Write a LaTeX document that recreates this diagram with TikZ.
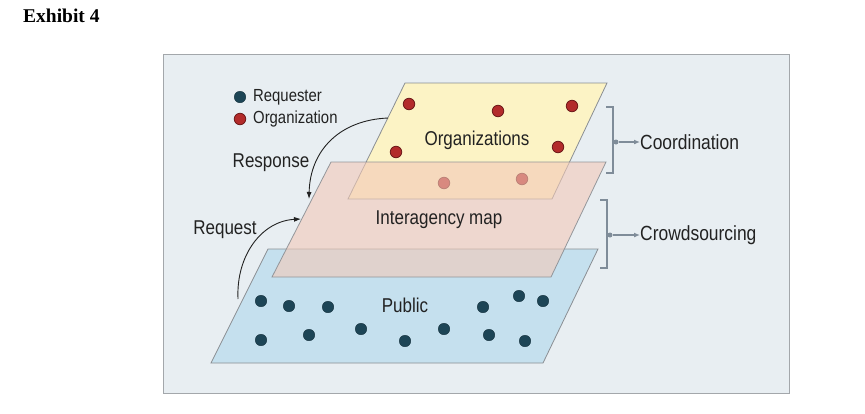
\documentclass[tikz,border=0pt]{standalone}
\usepackage{fontspec}
\setmainfont{Liberation Sans}[FakeStretch=0.85]
\newfontfamily\exfont{Liberation Serif}
\usetikzlibrary{arrows.meta}
\definecolor{framebg}{HTML}{E8EEF2}
\definecolor{frameline}{HTML}{A3A7AB}
\definecolor{yellowp}{HTML}{FCF3C5}
\definecolor{pinkp}{HTML}{F2C9B8}
\definecolor{bluep}{HTML}{C5E0EE}
\definecolor{planeline}{HTML}{8A8E93}
\definecolor{reqdot}{HTML}{1D4556}
\definecolor{orgdot}{HTML}{B32B2B}
\definecolor{orgline}{HTML}{6E1A1A}
\definecolor{brk}{HTML}{7F8C99}
\definecolor{txt}{HTML}{222222}
\tikzset{
  plane/.style={draw=planeline, line width=0.8pt},
  rdot/.style={circle, fill=reqdot, draw=reqdot!70!black, line width=0.4pt, minimum size=11.5pt, inner sep=0pt},
  odot/.style={circle, fill=orgdot, draw=orgline, line width=0.8pt, minimum size=11.5pt, inner sep=0pt},
  lbl/.style={text=txt, font=\fontsize{20}{22}\selectfont, inner sep=0pt},
  leg/.style={text=txt, font=\fontsize{17.5}{19}\selectfont, inner sep=0pt, anchor=west},
  side/.style={text=txt, font=\fontsize{20.5}{22}\selectfont, inner sep=0pt, anchor=west},
  brack/.style={draw=brk, line width=1.6pt},
  conn/.style={draw=brk, line width=1.3pt, -{Latex[length=6pt,width=5pt]}},
  flow/.style={draw=txt, line width=0.9pt, -{Latex[length=7pt,width=5pt]}}
}
\begin{document}
\begin{tikzpicture}[x=1pt,y=-1pt]
\useasboundingbox (0,0) rectangle (865,413);
% frame
\draw[fill=framebg, draw=frameline, line width=1pt] (163,54) rectangle (789,393);
\node[anchor=west, inner sep=0pt, font=\exfont\bfseries\fontsize{19.5}{22}\selectfont] (title) at (23,16) {Exhibit 4};
% planes
\coordinate (y1) at (405,83); \coordinate (y2) at (607,83); \coordinate (y3) at (552,199); \coordinate (y4) at (348,199);
\coordinate (b1) at (268,249); \coordinate (b2) at (598,249); \coordinate (b3) at (543,363); \coordinate (b4) at (211,363);
\coordinate (p1) at (331,162); \coordinate (p2) at (606,162); \coordinate (p3) at (551,277); \coordinate (p4) at (272,277);
\path[plane, fill=yellowp] (y1) -- (y2) -- (y3) -- (y4) -- cycle;
\path[plane, fill=bluep] (b1) -- (b2) -- (b3) -- (b4) -- cycle;
% organization dots
\node[odot] (o1) at (409,104) {};
\node[odot] (o2) at (498,111) {};
\node[odot] (o3) at (572,106) {};
\node[odot] (o4) at (396,152) {};
\node[odot] (o5) at (558,147) {};
\node[odot] (o6) at (444,183) {};
\node[odot] (o7) at (522,179) {};
% pink plane over
\path[plane, fill=pinkp, fill opacity=0.6, draw opacity=0.9] (p1) -- (p2) -- (p3) -- (p4) -- cycle;
% public dots
\foreach \n/\x/\y in {1/261/301, 2/289/306, 3/328/307, 4/483/307, 5/519/296, 6/543/301, 7/261/340, 8/309/335, 9/361/329, 10/405/341, 11/444/329, 12/489/335, 13/525/341}
  \node[rdot] (r\n) at (\x,\y) {};
% plane labels
\node[lbl] (orgs) at (477,140) {Organizations};
\node[lbl] (imap) at (439,220) {Interagency map};
\node[lbl] (pub) at (405,305) {Public};
% legend
\node[rdot] (lr) at (240,97) {};
\node[leg] (lrt) at (253,97) {Requester};
\node[odot] (lo) at (240,119) {};
\node[leg] (lot) at (253,119) {Organization};
% response / request
\node[lbl] (resp) at (271,163) {Response};
\node[lbl] (reqt) at (225,230) {Request};
\coordinate (rs) at (388,118);
\coordinate (re) at (309,199);
\draw[flow] (rs) .. controls (340,120) and (310,150) .. (re);
\coordinate (qs) at (238,299);
\coordinate (qe) at (301,219);
\draw[flow] (qs) .. controls (236,255) and (262,221) .. (qe);
% brackets
\coordinate (c1) at (606,107); \coordinate (c2) at (613,107); \coordinate (c3) at (613,173); \coordinate (c4) at (606,173);
\draw[brack] (c1) -- (c2) -- (c3) -- (c4);
\coordinate (d1) at (600,200); \coordinate (d2) at (607,200); \coordinate (d3) at (607,268); \coordinate (d4) at (600,268);
\draw[brack] (d1) -- (d2) -- (d3) -- (d4);
\node[side] (coord) at (640,142) {Coordination};
\node[side] (crowd) at (640,235) {Crowdsourcing};
\node[circle, fill=brk, inner sep=0pt, minimum size=5pt] (cd) at (616,142) {};
\node[circle, fill=brk, inner sep=0pt, minimum size=5pt] (wd) at (610,235) {};
\draw[conn] (cd) -- (coord.west);
\draw[conn] (wd) -- (crowd.west);
\end{tikzpicture}
\end{document}
